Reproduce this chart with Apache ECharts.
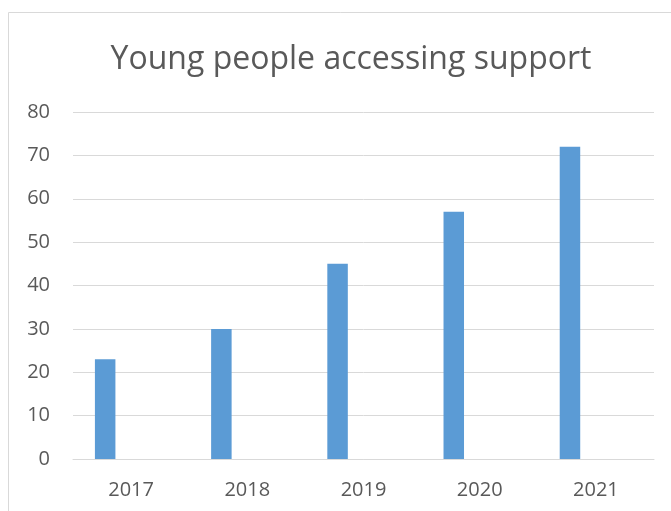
<!DOCTYPE html>
<html>
<head>
<meta charset="utf-8">
<style>
  html, body { margin: 0; padding: 0; background: #ffffff; }
  #chart { width: 671px; height: 511px; }
</style>
<script src="https://cdn.jsdelivr.net/npm/echarts@6.0.0/dist/echarts.min.js"></script>
</head>
<body>
<div id="chart"></div>
<script>
const years = ["2017", "2018", "2019", "2020", "2021"];
const youngPeople = [23, 30, 45, 57, 72];
// second (empty) series in the source chart, keeps bars left of the label
const emptySeries = [null, null, null, null, null];

const textColor = "#595959";
const gridColor = "#d9d9d9";

const chart = echarts.init(document.getElementById("chart"));

chart.setOption({
  animation: false,
  title: {
    text: "Young people accessing support",
    left: 346,
    top: 39,
    textAlign: "center",
    textStyle: {
      fontFamily: "Open Sans",
      fontSize: 32,
      fontWeight: "normal",
      color: textColor,
    },
  },
  graphic: [
    {
      type: "rect",
      shape: { x: 8.5, y: 12.5, width: 720, height: 600 },
      style: { fill: "none", stroke: gridColor, lineWidth: 1 },
      silent: true,
    },
  ],
  grid: { left: 73, right: 17, top: 112, bottom: 52 },
  xAxis: {
    type: "category",
    data: years,
    axisLine: { lineStyle: { color: gridColor, width: 1 } },
    axisTick: { show: false },
    axisLabel: {
      color: textColor,
      fontFamily: "Open Sans",
      fontSize: 20,
      margin: 21,
    },
  },
  yAxis: {
    type: "value",
    min: 0,
    max: 80,
    interval: 10,
    axisLine: { show: false },
    axisTick: { show: false },
    splitLine: { lineStyle: { color: gridColor, width: 1 } },
    axisLabel: {
      color: textColor,
      fontFamily: "Open Sans",
      fontSize: 20,
      margin: 23,
    },
  },
  series: [
    {
      type: "bar",
      data: youngPeople,
      barWidth: 20.5,
      barGap: "153%",
      itemStyle: { color: "#5b9bd5" },
    },
    {
      type: "bar",
      data: emptySeries,
      barWidth: 20.5,
      itemStyle: { color: "#ed7d31" },
    },
  ],
});
</script>
</body>
</html>
